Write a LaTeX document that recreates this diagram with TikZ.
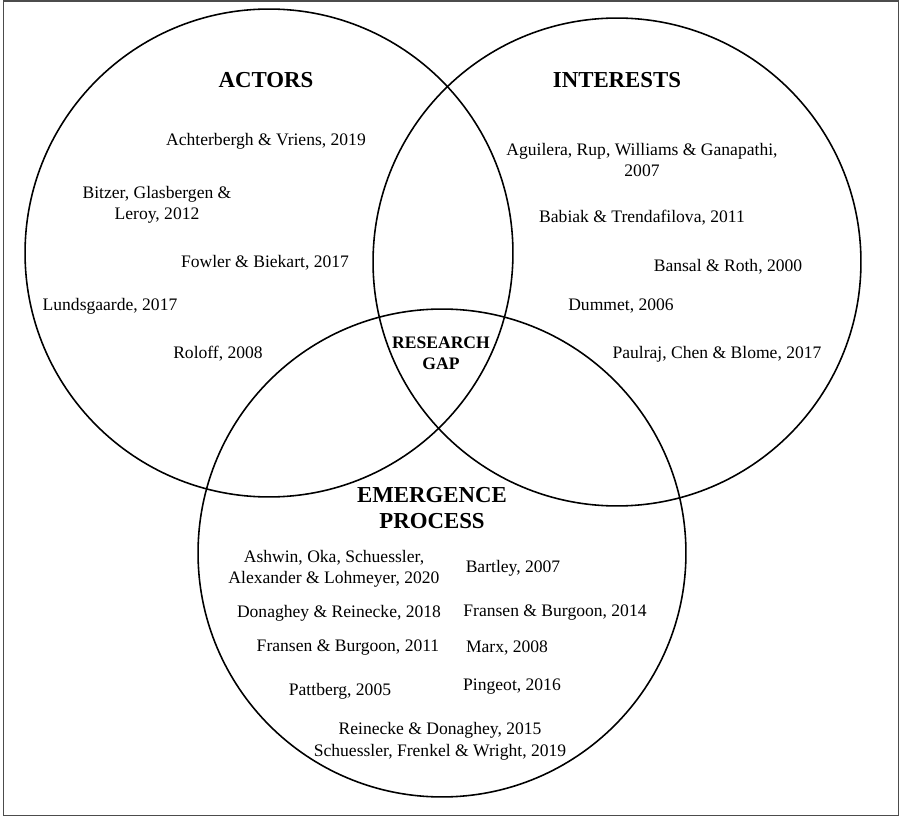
\documentclass[tikz,border=0pt]{standalone}
\usepackage{fontspec}
\setmainfont{Liberation Serif}
\usetikzlibrary{shapes.geometric, positioning}

\begin{document}
\begin{tikzpicture}[
    x=0.02cm, y=-0.02cm,
    set/.style={circle, draw=black, line width=0.9pt, minimum size=9.76cm, inner sep=0pt},
    heading/.style={font=\fontsize{13}{15}\selectfont\bfseries, align=center},
    gap/.style={font=\fontsize{10}{12}\selectfont\bfseries, align=center},
    ref/.style={font=\fontsize{10}{12}\selectfont, align=center, inner sep=1pt, yshift=-0.04cm}
]

\useasboundingbox (0,0) rectangle (900,817);

% Frame
\draw[gray!60!black, line width=0.9pt] (3.5,1) rectangle (898.5,815.5);

% Sets
\node[set] (actors) at (269,253) {};
\node[set] (interests) at (617,262) {};
\node[set] (emergence) at (442,553) {};

% Actors
\node[heading] (t_act) at (266,80) {ACTORS};
\node[ref] (a1) at (266,139) {Achterbergh \& Vriens, 2019};
\node[ref] (a2) at (157,203) {Bitzer, Glasbergen \&\\Leroy, 2012};
\node[ref] (a3) at (265,261) {Fowler \& Biekart, 2017};
\node[ref] (a4) at (110,304) {Lundsgaarde, 2017};
\node[ref] (a5) at (218,352) {Roloff, 2008};

% Interests
\node[heading] (t_int) at (617,80) {INTERESTS};
\node[ref] (i1) at (642,158) {Aguilera, Rup, Williams \& Ganapathi,\\2007};
\node[ref] (i2) at (642,216) {Babiak \& Trendafilova, 2011};
\node[ref] (i3) at (728,265) {Bansal \& Roth, 2000};
\node[ref] (i4) at (621,304) {Dummet, 2006};
\node[ref] (i5) at (717,352) {Paulraj, Chen \& Blome, 2017};

% Research gap
\node[gap] (rgap) at (441,353) {RESEARCH\\GAP};

% Emergence process
\node[heading] (t_emg) at (432,508) {EMERGENCE\\PROCESS};
\node[ref] (e1) at (334,567) {Ashwin, Oka, Schuessler,\\Alexander \& Lohmeyer, 2020};
\node[ref] (e2) at (513,566) {Bartley, 2007};
\node[ref] (e3) at (339,611) {Donaghey \& Reinecke, 2018};
\node[ref] (e4) at (555,611) {Fransen \& Burgoon, 2014};
\node[ref] (e5) at (348,646) {Fransen \& Burgoon, 2011};
\node[ref] (e6) at (507,646) {Marx, 2008};
\node[ref] (e7) at (340,689) {Pattberg, 2005};
\node[ref] (e8) at (512,685) {Pingeot, 2016};
\node[ref] (e9) at (440,728) {Reinecke \& Donaghey, 2015};
\node[ref] (e10) at (440,750) {Schuessler, Frenkel \& Wright, 2019};

\end{tikzpicture}
\end{document}
